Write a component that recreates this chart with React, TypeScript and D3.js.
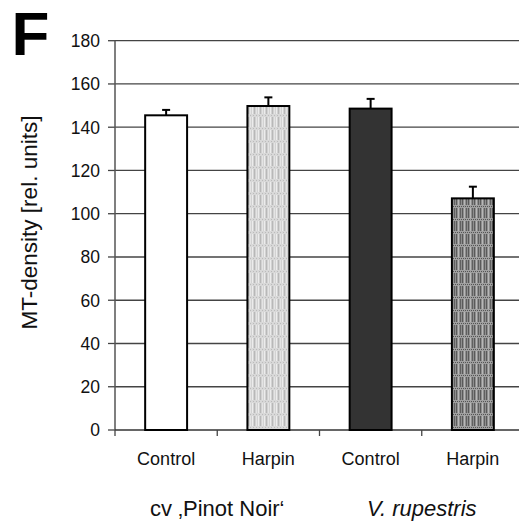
import React from "react";
import * as d3 from "d3";

const categories = ["Control", "Harpin", "Control", "Harpin"];
const values = [145.5, 149.8, 148.6, 107.1];
const errors = [2.5, 4.0, 4.5, 5.4];
const fills = ["#ffffff", "url(#patLight)", "#333333", "url(#patDark)"];
const groups = ["cv \u201APinot Noir\u2018", "V. rupestris"];
const yTicks = [0, 20, 40, 60, 80, 100, 120, 140, 160, 180];

const W = 519;
const H = 525;
const left = 115;
const right = 524;
const top = 40.7;
const bottom = 430;

export default function App() {
  const x = d3.scaleBand<number>().domain(d3.range(categories.length)).range([left, right]).paddingInner(0.59).paddingOuter(0.295);
  const y = d3.scaleLinear().domain([0, 180]).range([bottom, top]);
  const step = (right - left) / categories.length;
  const font = "'Liberation Sans', Arial, Helvetica, sans-serif";
  return (
    <svg width={W} height={H} style={{ position: "absolute", left: 0, top: 0, background: "#fff" }} fontFamily={font}>
      <defs>
        <pattern id="patLight" patternUnits="userSpaceOnUse" width="6" height="13" x="0" y="0">
          <rect width="6" height="13" fill="#d2d2d2" />
          <rect x="0" width="1" height="13" fill="#ececec" />
          <rect x="2" width="1" height="13" fill="#b8b8b8" />
          <rect x="4" width="1" height="13" fill="#e4e4e4" />
          <rect x="0" y="10" width="6" height="3" fill="#d8d8d8" />
          <rect x="1" y="11" width="1" height="1" fill="#bbbbbb" />
          <rect x="4" y="11" width="1" height="1" fill="#bbbbbb" />
        </pattern>
        <pattern id="patDark" patternUnits="userSpaceOnUse" width="6" height="13" x="0" y="0">
          <rect width="6" height="13" fill="#8e8e8e" />
          <rect x="0" width="1" height="13" fill="#5a5a5a" />
          <rect x="2" width="1" height="13" fill="#b8b8b8" />
          <rect x="4" width="1" height="13" fill="#606060" />
          <rect x="0" y="10" width="6" height="3" fill="#a0a0a0" />
          <rect x="1" y="11" width="1" height="1" fill="#555" />
          <rect x="3" y="11" width="1" height="1" fill="#555" />
          <rect x="5" y="11" width="1" height="1" fill="#555" />
        </pattern>
      </defs>
      <text x={11.5} y={55} fontSize={62} fontWeight="bold" fill="#000">F</text>
      {yTicks.filter((t) => t > 0).map((t) => (
        <line key={"g" + t} x1={left} x2={right} y1={y(t)} y2={y(t)} stroke="#444" strokeWidth={1.3} />
      ))}
      {yTicks.map((t) => (
        <g key={"t" + t}>
          <line x1={left - 7} x2={left} y1={y(t)} y2={y(t)} stroke="#444" strokeWidth={1.3} />
          <text x={100} y={y(t)} dy="0.36em" textAnchor="end" fontSize={17.5} fill="#111">{t}</text>
        </g>
      ))}
      <line x1={left} x2={left} y1={top} y2={bottom} stroke="#555" strokeWidth={1.5} />
      <line x1={left} x2={right} y1={bottom} y2={bottom} stroke="#333" strokeWidth={1.5} />
      {d3.range(categories.length + 1).map((i) => (
        <line key={"xt" + i} x1={left + i * step} x2={left + i * step} y1={bottom} y2={bottom + 6} stroke="#444" strokeWidth={1.3} />
      ))}
      {values.map((v, i) => (
        <g key={"b" + i}>
          <line x1={x(i)! + x.bandwidth() / 2} x2={x(i)! + x.bandwidth() / 2} y1={y(v)} y2={y(v + errors[i])} stroke="#000" strokeWidth={2} />
          <line x1={x(i)! + x.bandwidth() / 2 - 4} x2={x(i)! + x.bandwidth() / 2 + 4} y1={y(v + errors[i])} y2={y(v + errors[i])} stroke="#000" strokeWidth={2} />
          <rect x={x(i)} y={y(v)} width={x.bandwidth()} height={bottom - y(v)} fill={fills[i]} stroke="#000" strokeWidth={2} />
        </g>
      ))}
      {categories.map((c, i) => (
        <text key={"c" + i} x={x(i)! + x.bandwidth() / 2} y={465} textAnchor="middle" fontSize={18} fill="#111">{c}</text>
      ))}
      {groups.map((g, gi) => (
        <text key={"gr" + gi} x={left + step * (2 * gi + 1)} y={516} textAnchor="middle" fontSize={22} fontStyle={gi === 1 ? "italic" : "normal"} fill="#111">{g}</text>
      ))}
      <text transform={`translate(37, 222.5) rotate(-90)`} textAnchor="middle" fontSize={22.5} fill="#111">MT-density [rel. units]</text>
    </svg>
  );
}
